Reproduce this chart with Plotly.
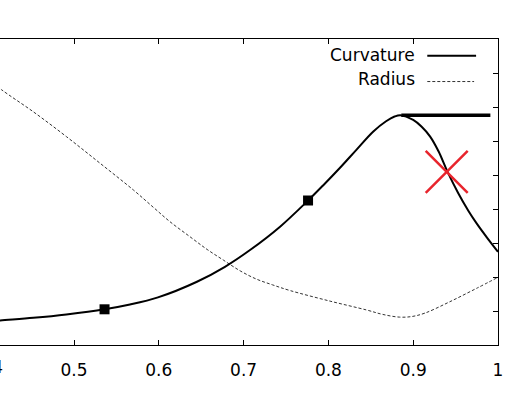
import plotly.graph_objects as go

# Curvature curve (solid)
curv_x = [0.400, 0.413, 0.452, 0.491, 0.536, 0.566, 0.599, 0.645, 0.678, 0.708,
          0.743, 0.776, 0.794, 0.814, 0.833, 0.853, 0.868, 0.878, 0.885, 0.900, 0.910,
          0.920, 0.930, 0.940, 0.953, 0.965, 0.975, 0.987, 1.000]
curv_y = [0.69, 0.72, 0.80, 0.90, 1.05, 1.19, 1.40, 1.86, 2.30, 2.80,
          3.48, 4.25, 4.70, 5.22, 5.74, 6.28, 6.58, 6.72, 6.76, 6.62, 6.42,
          6.13, 5.69, 5.12, 4.47, 3.95, 3.57, 3.16, 2.74]

# Radius curve (dashed)
rad_x = [0.400, 0.415, 0.452, 0.491, 0.531, 0.570, 0.594, 0.613, 0.637, 0.657, 0.676,
         0.696, 0.715, 0.734, 0.755, 0.802, 0.845, 0.864, 0.884, 0.899, 0.914, 0.943,
         0.975, 1.000]
rad_y = [7.80, 7.50, 6.86, 6.13, 5.34, 4.56, 4.04, 3.63, 3.18, 2.81, 2.50,
         2.18, 1.94, 1.77, 1.60, 1.29, 1.03, 0.90, 0.82, 0.84, 0.94, 1.27,
         1.67, 1.99]

# Square markers on the curvature curve
mark_x = [0.536, 0.776]
mark_y = [1.05, 4.25]

# Horizontal cap at peak
cap_x = [0.886, 0.991]
cap_y = [6.76, 6.76]

# Red cross
cross_x = [0.9395]
cross_y = [5.09]

tick_vals = [0.5, 0.6, 0.7, 0.8, 0.9, 1.0]
tick_text = ["0.5", "0.6", "0.7", "0.8", "0.9", "1"]

FONT = "DejaVu Sans"
X_MIN, X_MAX = 0.41274, 1.0

fig = go.Figure()
fig.add_trace(go.Scatter(x=rad_x, y=rad_y, mode="lines",
                         line=dict(color="#333333", width=1, dash="3px,2px", shape="spline", smoothing=1.0),
                         showlegend=False, hoverinfo="skip"))
fig.add_trace(go.Scatter(x=curv_x, y=curv_y, mode="lines",
                         line=dict(color="black", width=2, shape="spline", smoothing=1.0),
                         showlegend=False, hoverinfo="skip"))
fig.add_trace(go.Scatter(x=cap_x, y=cap_y, mode="lines",
                         line=dict(color="black", width=3.5),
                         showlegend=False, hoverinfo="skip"))
fig.add_trace(go.Scatter(x=mark_x, y=mark_y, mode="markers",
                         marker=dict(symbol="square", size=10, color="black"),
                         showlegend=False, hoverinfo="skip"))
fig.add_trace(go.Scatter(x=cross_x, y=cross_y, mode="markers",
                         marker=dict(symbol="x-thin", size=42, color="#e8242c",
                                     line=dict(color="#e8242c", width=2.5)),
                         showlegend=False, hoverinfo="skip"))

fig.update_layout(
    width=511, height=393,
    margin=dict(l=0, r=13, t=39, b=48),
    paper_bgcolor="white", plot_bgcolor="white",
    font=dict(family=FONT, size=17, color="black"),
    showlegend=False,
    xaxis=dict(range=[X_MIN, X_MAX], tickvals=tick_vals, ticktext=tick_text,
               ticks="inside", ticklen=5, tickcolor="black", tickwidth=1,
               showline=True, linecolor="black", linewidth=1, mirror="ticks",
               showgrid=False, zeroline=False, ticklabelstandoff=10,
               tickfont=dict(family=FONT, size=17, color="black")),
    yaxis=dict(range=[0, 9], dtick=1, side="right", ticks="inside", ticklen=5,
               tickcolor="black", tickwidth=1, showline=True, linecolor="black",
               linewidth=1, showgrid=False, zeroline=False, showticklabels=False),
)

# Partially visible 0.4 label at left edge (cropped in the reference too)
fig.add_annotation(x=(0.4 - X_MIN) / (X_MAX - X_MIN), xref="paper", xanchor="center",
                   y=0, yref="paper", yshift=-10, yanchor="top",
                   text="0.4", showarrow=False, font=dict(family=FONT, size=17, color="black"))

# Legend (gnuplot style: text right-aligned, sample to the right)
fig.add_annotation(x=0.8367, xref="paper", y=0.9477, yref="paper", xanchor="right", yanchor="middle",
                   text="Curvature", showarrow=False, font=dict(family=FONT, size=17, color="black"))
fig.add_annotation(x=0.8367, xref="paper", y=0.8706, yref="paper", xanchor="right", yanchor="middle",
                   text="Radius", showarrow=False, font=dict(family=FONT, size=17, color="black"))
fig.add_shape(type="line", xref="paper", yref="paper", x0=0.858, x1=0.956, y0=0.9455, y1=0.9455,
              line=dict(color="black", width=2))
fig.add_shape(type="line", xref="paper", yref="paper", x0=0.858, x1=0.952, y0=0.861, y1=0.861,
              line=dict(color="#333333", width=1, dash="3px,2px"))

fig.write_html("out.html", config={"displayModeBar": False},
               post_script="document.body.style.margin='0';document.body.style.padding='0';")
